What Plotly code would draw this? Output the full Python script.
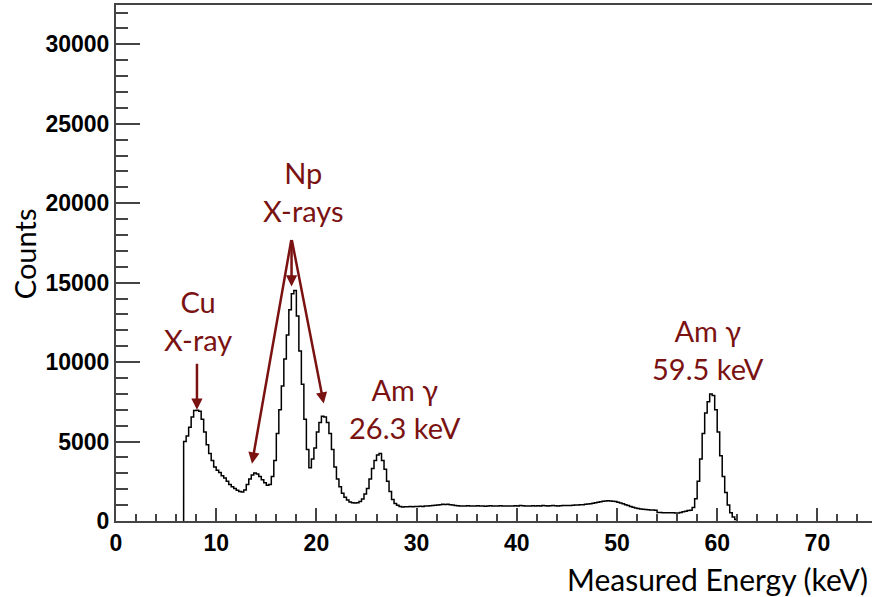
import numpy as np
import plotly.graph_objects as go

# ---- data (histogram, 0.25 keV bins) ----
BIN_START = 6.75
BIN_WIDTH = 0.25
counts = [
    5000,
    5350, 5900, 6550, 6950,      # 7
    6970, 6900, 6400, 5600,      # 8
    4800, 4250, 3800, 3400,      # 9
    3200, 3050, 2850, 2700,      # 10
    2500, 2300, 2150, 2050,      # 11
    1930, 1860, 1830, 1950,      # 12
    2300, 2650, 2900, 3020,      # 13
    2950, 2800, 2600, 2400,      # 14
    2250, 2300, 2800, 3800,      # 15
    5500, 7000, 8500, 10200,     # 16
    11700, 13300, 14300, 14500,  # 17
    12900, 10700, 8600, 6400,    # 18
    4500, 3350, 3900, 4600,      # 19
    5600, 6200, 6600, 6550,      # 20
    6200, 5500, 4500, 3400,      # 21
    2650, 2150, 1750, 1500,      # 22
    1320, 1200, 1150, 1130,      # 23
    1150, 1230, 1380, 1700,      # 24
    2050, 2650, 3300, 3800,      # 25
    4150, 4250, 3800, 3250,      # 26
    2500, 1850, 1350, 1100,      # 27
    990, 920, 880, 900,          # 28
    890, 910, 900, 920,          # 29
    910, 930, 920, 940,          # 30
    950, 960, 980, 990,          # 31
    1010, 1030, 1050, 1040,      # 32
    1050, 1030, 1000, 980,       # 33
    960, 950, 940, 950,          # 34
    960, 950, 940, 950,          # 35
    960, 950, 940, 930,          # 36
    950, 960, 950, 940,          # 37
    950, 960, 950, 940,          # 38
    950, 940, 950, 960,          # 39
    950, 970, 960, 950,          # 40
    940, 950, 960, 950,          # 41
    960, 950, 970, 960,          # 42
    950, 960, 970, 960,          # 43
    950, 960, 970, 980,          # 44
    970, 980, 990, 1000,         # 45
    1010, 1020, 1030, 1050,      # 46
    1070, 1090, 1120, 1150,      # 47
    1180, 1210, 1240, 1260,      # 48
    1270, 1260, 1240, 1220,      # 49
    1180, 1130, 1080, 1030,      # 50
    980, 920, 870, 820,          # 51
    790, 760, 740, 720,          # 52
    710, 700, 690, 680,          # 53
    540, 530, 520, 520,          # 54
    520, 520, 520, 510,          # 55
    500, 540, 580, 620,          # 56
    660, 680, 850, 1400,         # 57
    2500, 3900, 5500, 6800,      # 58
    7500, 8000, 7900, 7000,      # 59
    5600, 4100, 2800, 1800,      # 60
    1000, 520, 250, 100,         # 61
]

x_ticks = [0, 10, 20, 30, 40, 50, 60, 70]
y_ticks = [0, 5000, 10000, 15000, 20000, 25000, 30000]

labels = ["Cu<br>X-ray", "Np<br>X-rays", "Am γ<br>26.3 keV", "Am γ<br>59.5 keV"]
label_x = [8.15, 18.73, 28.86, 59.05]
label_y = [12600, 20750, 7090, 10810]

# arrows: (tip_x, tip_y, tail_x, tail_y)
arrow_tip_x = [8.08, 17.52, 13.57, 20.73]
arrow_tip_y = [7000, 14760, 3610, 7390]
arrow_tail_x = [8.08, 17.52, 17.52, 17.52]
arrow_tail_y = [9990, 17780, 17780, 17780]

edges = BIN_START + BIN_WIDTH * np.arange(len(counts) + 1)
xs = [BIN_START] + list(edges) + [edges[-1]]
ys = [0] + list(counts) + [counts[-1], 0]

RED = "#7a1212"
AXC = "#444444"

fig = go.Figure()
fig.add_trace(go.Scatter(x=xs, y=ys, mode="lines", line=dict(color="black", width=1.5, shape="hv"),
                         hoverinfo="skip"))

tickfont = dict(family="Liberation Sans", size=23, color="black", weight="bold")
fig.update_xaxes(range=[0, 75.45], showline=True, linecolor=AXC, linewidth=2, mirror=True,
                 ticks="inside", ticklen=13, tickwidth=1.5, tickcolor=AXC,
                 tickvals=x_ticks, minor=dict(ticks="inside", ticklen=7, dtick=2, tick0=0,
                                              tickwidth=1.5, tickcolor=AXC),
                 showgrid=False, zeroline=False, tickfont=tickfont)
fig.update_yaxes(range=[0, 32473], showline=True, linecolor=AXC, linewidth=2,
                 ticks="inside", ticklen=24, tickwidth=1.5, tickcolor=AXC,
                 tickvals=y_ticks, tickformat="d",
                 minor=dict(ticks="inside", ticklen=12, dtick=1000, tick0=0,
                            tickwidth=1.5, tickcolor=AXC),
                 showgrid=False, zeroline=False, tickfont=tickfont)

ann = []
for t, x, y in zip(labels, label_x, label_y):
    ann.append(dict(x=x, y=y, xref="x", yref="y", text=t, showarrow=False,
                    xanchor="center", yanchor="middle",
                    font=dict(family="Lato", size=29, color=RED)))
for tx, ty, ax, ay in zip(arrow_tip_x, arrow_tip_y, arrow_tail_x, arrow_tail_y):
    ann.append(dict(x=tx, y=ty, xref="x", yref="y", ax=ax, ay=ay, axref="x", ayref="y",
                    text="", showarrow=True, arrowhead=2, arrowsize=0.9, arrowwidth=2.5,
                    arrowcolor=RED, standoff=0))
ann.append(dict(x=-0.1217, y=0.519, xref="paper", yref="paper", text="Counts", textangle=-90,
                showarrow=False, xanchor="center", yanchor="middle",
                font=dict(family="Lato", size=29, color="black")))
ann.append(dict(x=0.998, y=-0.112, xref="paper", yref="paper", text="Measured Energy (keV)",
                showarrow=False, xanchor="right", yanchor="middle",
                font=dict(family="Lato", size=30, color="black")))

fig.update_layout(width=872, height=597, margin=dict(l=116, r=0, t=5, b=76),
                  paper_bgcolor="white", plot_bgcolor="white", showlegend=False,
                  annotations=ann)

fig.write_html("out.html")
